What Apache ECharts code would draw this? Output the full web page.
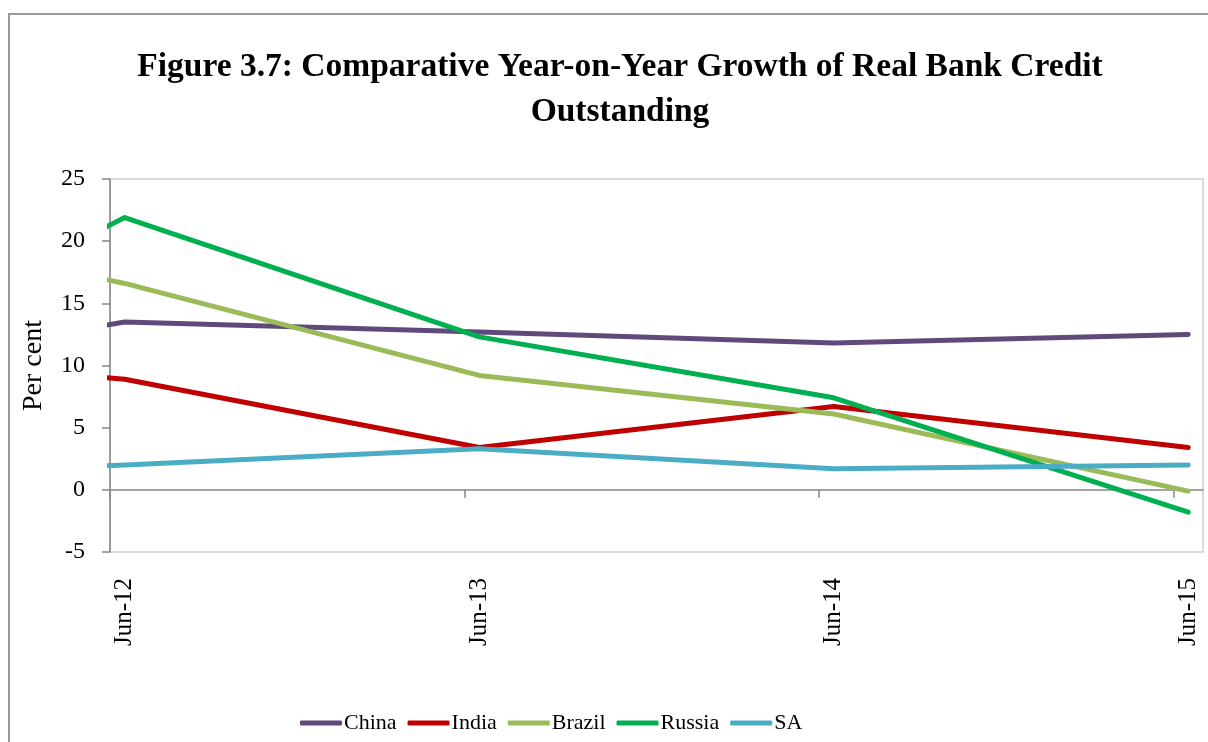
<!DOCTYPE html>
<html>
<head>
<meta charset="utf-8">
<script src="https://cdn.jsdelivr.net/npm/echarts@6/dist/echarts.min.js"></script>
<style>
html,body{margin:0;padding:0;background:#fff;}
#chart{width:1208px;height:742px;}
</style>
</head>
<body>
<div id="chart"></div>
<script>
// Observation months (first one falls just before the axis start and is clipped)
const months = ['2012-05', '2012-06', '2013-06', '2014-06', '2015-06'];
const tickLabels = ['Jun-12', 'Jun-13', 'Jun-14', 'Jun-15'];
const seriesNames = ['China', 'India', 'Brazil', 'Russia', 'SA'];
const china  = [13.1, 13.5, 12.7, 11.8, 12.5];
const india  = [9.1, 8.9, 3.4, 6.7, 3.4];
const brazil = [17.1, 16.6, 9.2, 6.1, -0.1];
const russia = [20.7, 21.9, 12.3, 7.4, -1.8];
const sa     = [1.9, 2.0, 3.3, 1.7, 2.0];

const colors = ['#604A7B', '#C00000', '#9BBB59', '#00B050', '#4BACC6'];
const FONT = '"Liberation Serif", "Times New Roman", serif';

// month index relative to Jun-2012, placed at the centre of its monthly slot
function monthPos(s) {
  const [y, m] = s.split('-').map(Number);
  return (y - 2012) * 12 + (m - 6) + 0.5;
}
const xs = months.map(monthPos);
const allValues = [china, india, brazil, russia, sa];

const chart = echarts.init(document.getElementById('chart'), null, {renderer: 'canvas'});
const option = {
  backgroundColor: '#ffffff',
  animation: false,
  title: {
    text: 'Figure 3.7: Comparative Year-on-Year Growth of Real Bank Credit\nOutstanding',
    left: 615,
    top: 40,
    textAlign: 'center',
    textStyle: {
      fontFamily: FONT,
      fontWeight: 'bold',
      fontSize: 33.5,
      lineHeight: 45,
      color: '#000'
    }
  },
  graphic: [{
    type: 'rect',
    shape: {x: 9, y: 14, width: 1300, height: 800},
    style: {fill: 'none', stroke: '#9a9a9a', lineWidth: 2},
    silent: true,
    z: -10
  }],
  legend: {
    data: seriesNames,
    left: 295,
    top: 707,
    icon: 'roundRect',
    itemWidth: 42,
    itemHeight: 5,
    itemGap: 11,
    textStyle: {fontFamily: FONT, fontSize: 22, color: '#000', padding: [0, 0, 0, -3]}
  },
  grid: {
    left: 110,
    right: 5,
    top: 179,
    bottom: 190,
    show: true,
    borderColor: '#d0d0d0',
    borderWidth: 1.5,
    containLabel: false
  },
  xAxis: [{
    type: 'value',
    min: 0,
    max: 37,
    position: 'bottom',
    axisLine: {show: true, onZero: true, lineStyle: {color: '#868686', width: 1.5}},
    axisTick: {show: true, length: 8, customValues: [0, 12, 24, 36], lineStyle: {color: '#868686', width: 1.5}},
    axisLabel: {show: false},
    splitLine: {show: false}
  }, {
    type: 'value',
    min: 0,
    max: 37,
    position: 'bottom',
    axisLine: {show: false, onZero: false},
    axisTick: {show: false},
    splitLine: {show: false},
    axisLabel: {
      show: true,
      customValues: tickLabels.map((_, i) => i * 12 + 0.5),
      formatter: function (v) { return tickLabels[Math.round((v - 0.5) / 12)]; },
      rotate: 90,
      margin: 26,
      fontFamily: FONT,
      fontSize: 25,
      color: '#000'
    }
  }],
  yAxis: {
    type: 'value',
    min: -5,
    max: 25,
    interval: 5,
    name: 'Per cent',
    nameLocation: 'middle',
    nameGap: 62,
    nameTextStyle: {fontFamily: FONT, fontSize: 28, color: '#000'},
    axisLine: {show: true, lineStyle: {color: '#868686', width: 1.5}},
    axisTick: {show: true, length: 8, lineStyle: {color: '#868686', width: 1.5}},
    axisLabel: {fontFamily: FONT, fontSize: 24, color: '#000', margin: 25},
    splitLine: {show: false}
  },
  series: seriesNames.map((name, i) => ({
    name: name,
    type: 'line',
    xAxisIndex: 0,
    showSymbol: false,
    symbol: 'none',
    clip: true,
    color: colors[i],
    lineStyle: {width: 5, color: colors[i], cap: 'round', join: 'round'},
    data: xs.map((x, j) => [x, allValues[i][j]])
  }))
};
chart.setOption(option);
</script>
</body>
</html>
